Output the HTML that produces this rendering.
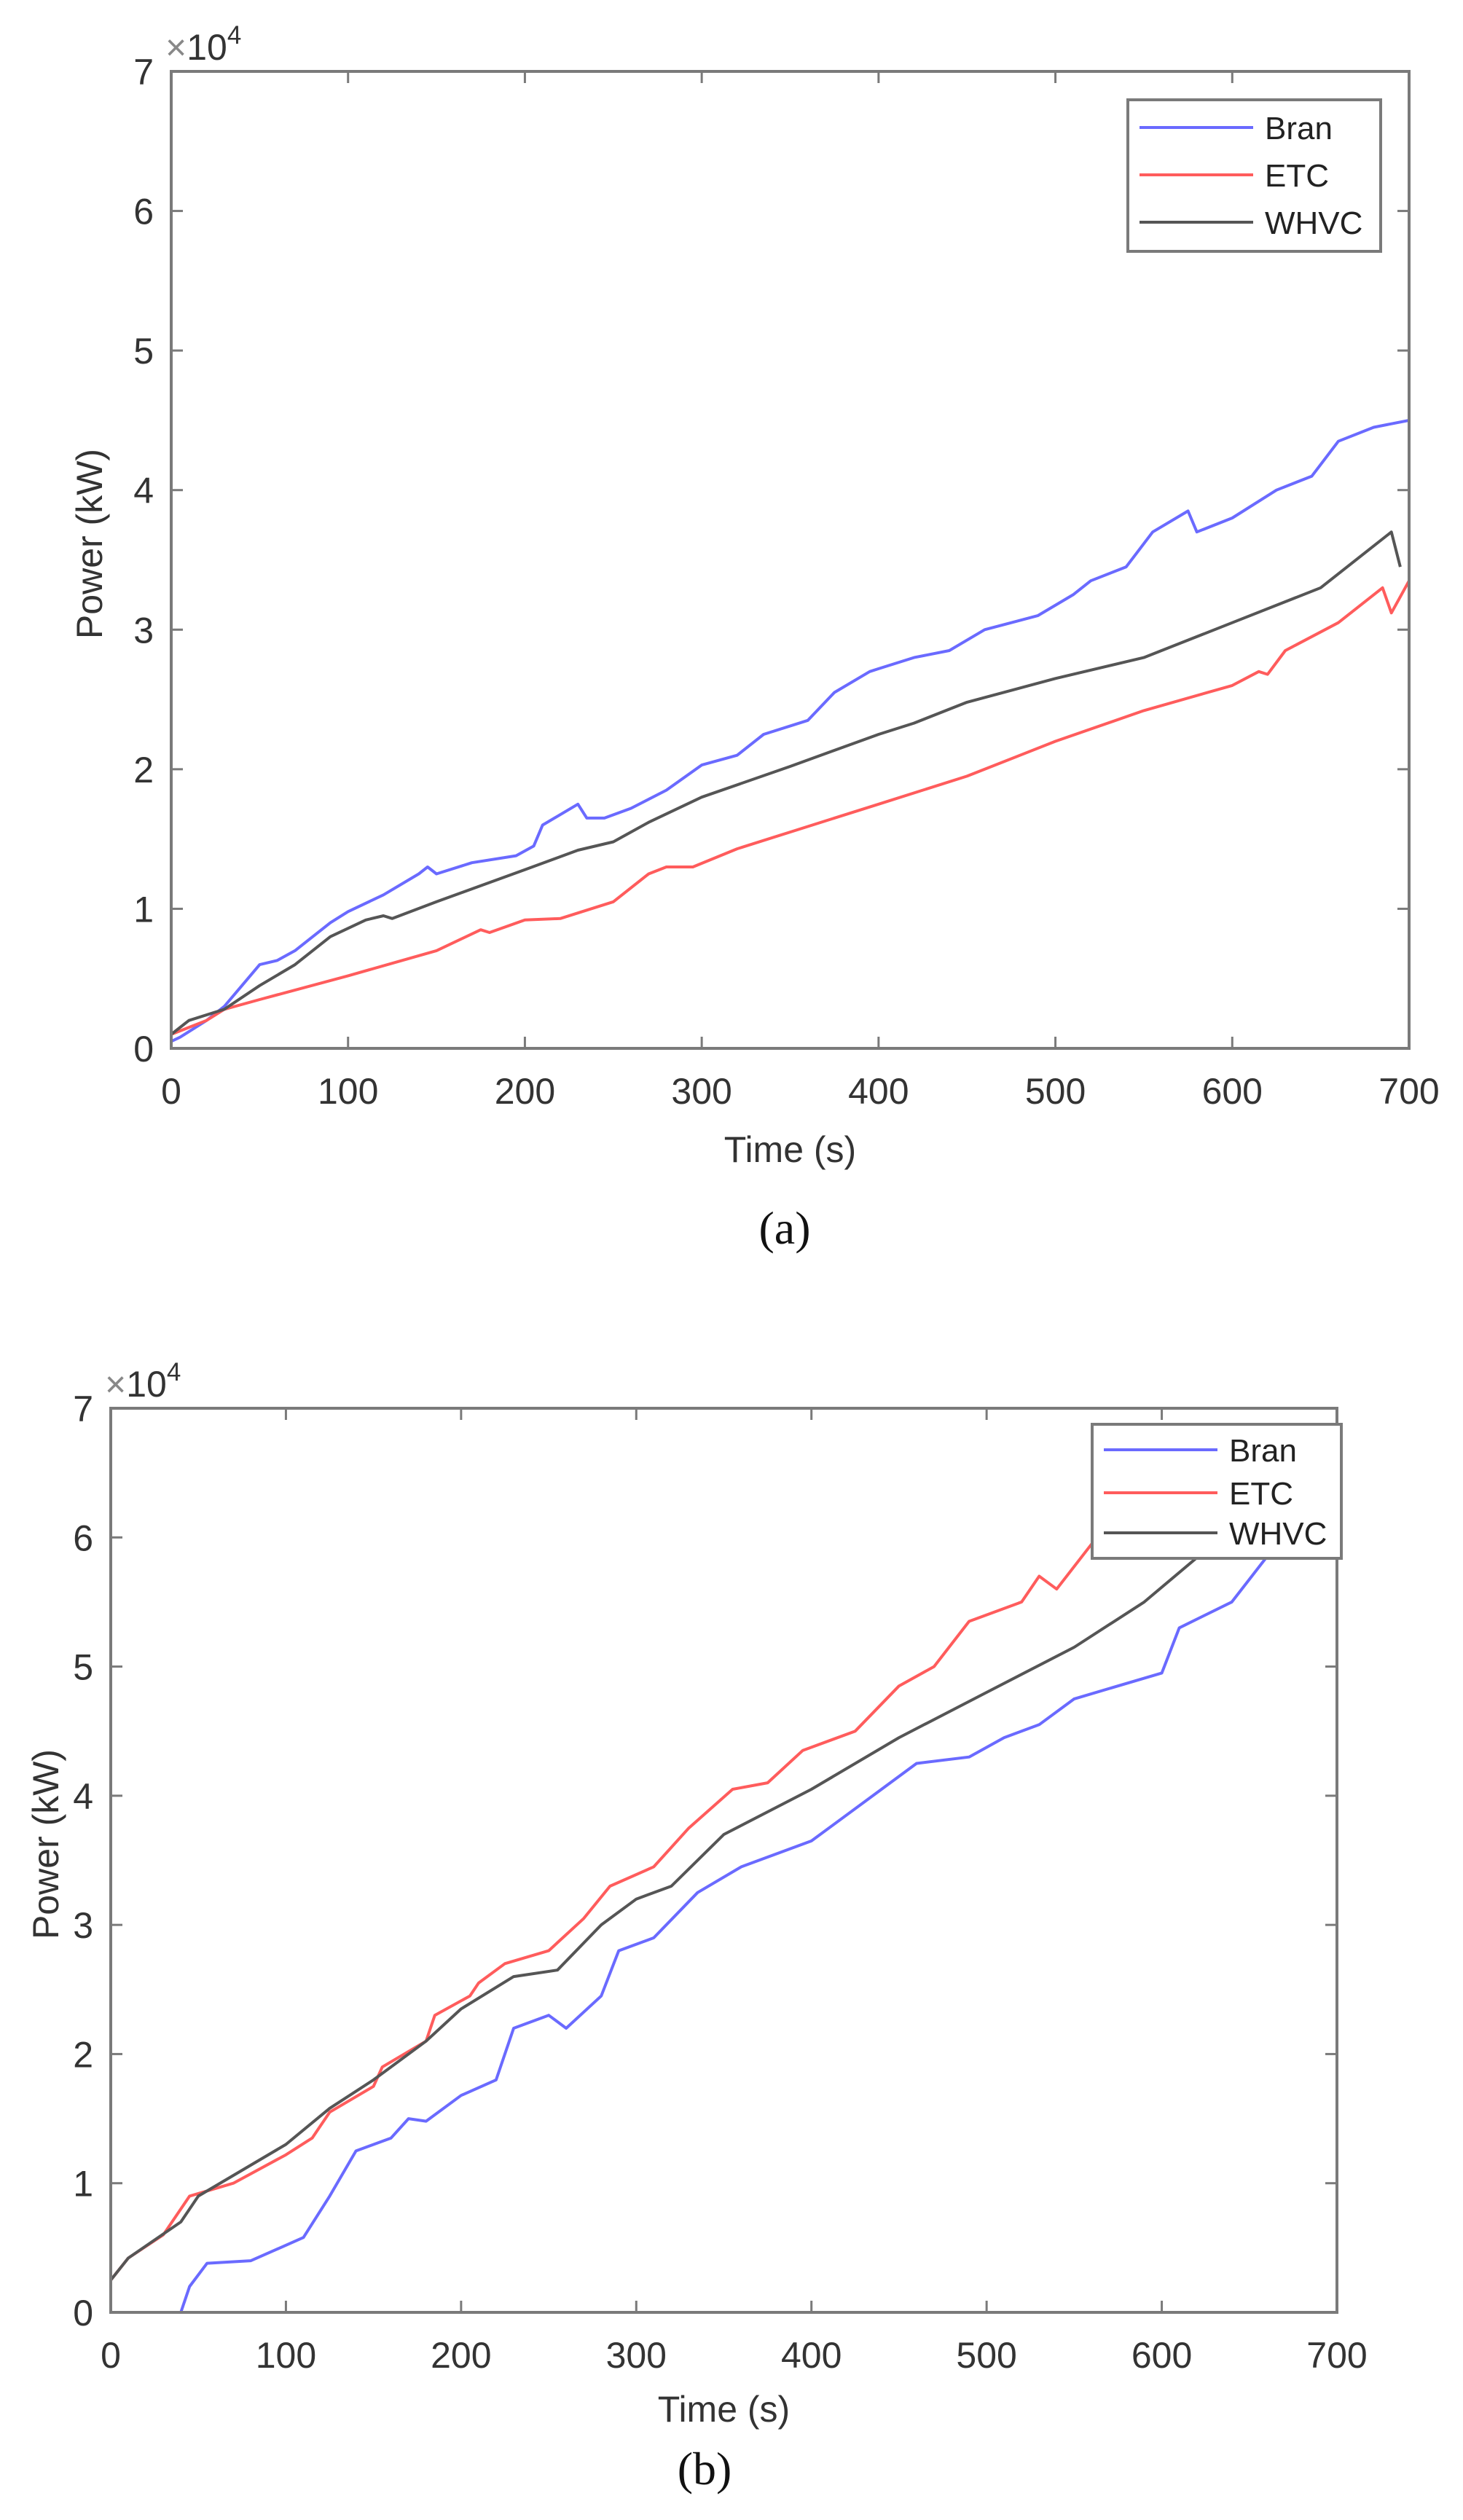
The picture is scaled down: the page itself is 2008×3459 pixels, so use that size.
<!DOCTYPE html>
<html><head><meta charset="utf-8">
<style>
html,body{margin:0;padding:0;background:#fff;}
svg{display:block;}
text{font-family:"Liberation Sans",sans-serif;fill:#333;}
</style></head>
<body>
<svg id="fig" width="2008" height="3459" viewBox="0 0 2008 3459" xmlns="http://www.w3.org/2000/svg"></svg>
<script>
// ---- data (values in units of 1e4 kW) ----
const xTicks = [0,100,200,300,400,500,600,700];
const yTicks = [0,1,2,3,4,5,6,7];
const seriesNames = ["Bran","ETC","WHVC"];

const aBranT = [0,5,20,30,40,50,60,70,80,90,100,120,140,145,150,170,195,205,210,230,235,245,260,280,300,320,335,360,375,395,400,420,440,460,490,510,520,540,555,575,580,600,625,645,660,680,700];
const aBranV = [0.05,0.08,0.2,0.3,0.45,0.6,0.63,0.7,0.8,0.9,0.98,1.1,1.25,1.3,1.25,1.33,1.38,1.45,1.6,1.75,1.65,1.65,1.72,1.85,2.03,2.1,2.25,2.35,2.55,2.7,2.72,2.8,2.85,3.0,3.1,3.25,3.35,3.45,3.7,3.85,3.7,3.8,4.0,4.1,4.35,4.45,4.5];
const aEtcT = [0,20,30,50,100,150,175,180,200,220,250,270,280,295,320,350,400,450,480,500,550,600,615,620,630,660,685,690,700];
const aEtcV = [0.1,0.2,0.28,0.35,0.52,0.7,0.85,0.83,0.92,0.93,1.05,1.25,1.3,1.3,1.43,1.55,1.75,1.95,2.1,2.2,2.42,2.6,2.7,2.68,2.85,3.05,3.3,3.12,3.35];
const aWhvcT = [0,10,30,50,70,90,110,120,125,150,200,230,250,270,300,350,400,420,450,500,550,560,600,650,690,695];
const aWhvcV = [0.1,0.2,0.28,0.45,0.6,0.8,0.92,0.95,0.93,1.05,1.28,1.42,1.48,1.62,1.8,2.02,2.25,2.33,2.48,2.65,2.8,2.85,3.05,3.3,3.7,3.45];

const bBranT = [40,45,55,80,110,125,140,160,170,180,200,220,230,250,260,280,290,310,335,360,400,440,460,490,510,530,550,600,610,640,660,670];
const bBranV = [0,0.2,0.38,0.4,0.58,0.9,1.25,1.35,1.5,1.48,1.68,1.8,2.2,2.3,2.2,2.45,2.8,2.9,3.25,3.45,3.65,4.05,4.25,4.3,4.45,4.55,4.75,4.95,5.3,5.5,5.85,6.1];
const bEtcT = [0,10,30,45,70,100,115,125,150,155,180,185,205,210,225,250,270,285,310,330,355,375,395,425,450,470,490,520,530,540,560,600];
const bEtcV = [0.25,0.42,0.6,0.9,1.0,1.22,1.35,1.55,1.75,1.9,2.1,2.3,2.45,2.55,2.7,2.8,3.05,3.3,3.45,3.75,4.05,4.1,4.35,4.5,4.85,5.0,5.35,5.5,5.7,5.6,5.95,6.3];
const bWhvcT = [0,10,40,50,100,125,150,180,200,230,255,280,300,320,350,400,450,500,550,590,625,650];
const bWhvcV = [0.25,0.42,0.7,0.9,1.3,1.58,1.8,2.1,2.35,2.6,2.65,3.0,3.2,3.3,3.7,4.05,4.45,4.8,5.15,5.5,5.9,6.2];

const colors = {Bran:"#6a6aff", ETC:"#ff5c5c", WHVC:"#555555"};
const NS = "http://www.w3.org/2000/svg";
const svg = document.getElementById('fig');
function mk(tag, attrs, parent){
  const e = document.createElementNS(NS, tag);
  for (const k in attrs) e.setAttribute(k, attrs[k]);
  (parent||svg).appendChild(e);
  return e;
}

function drawPanel(p){
  const g = mk('g', {});
  
  
  const xs = v => p.L + (v/700)*(p.R - p.L);
  const ys = v => p.B - (v/7)*(p.B - p.T);
  const cp = mk('clipPath', {id:'clip'+p.id}, g);
  mk('rect', {x:p.L, y:p.T, width:p.R-p.L, height:p.B-p.T}, cp);
  const data = [[p.bran[0],p.bran[1],'Bran'],[p.etc[0],p.etc[1],'ETC'],[p.whvc[0],p.whvc[1],'WHVC']];
  data.forEach(d => {
    let pts = d[0].map((t,i) => xs(t).toFixed(1)+','+ys(d[1][i]).toFixed(1)).join(' ');
    const pl = mk('polyline', {points:pts, fill:'none', stroke:colors[d[2]], 'stroke-width':4, 'stroke-linejoin':'round', 'clip-path':'url(#clip'+p.id+')'}, g);
    
    
  });
  const box = mk('rect', {x:p.L, y:p.T, width:p.R-p.L, height:p.B-p.T, fill:'none', stroke:'#7a7a7a', 'stroke-width':4}, g);
  
  
  xTicks.forEach(t => {
    const x = xs(t);
    mk('line', {x1:x, y1:p.B, x2:x, y2:p.B-16, stroke:'#7a7a7a', 'stroke-width':3}, g);
    mk('line', {x1:x, y1:p.T, x2:x, y2:p.T+16, stroke:'#7a7a7a', 'stroke-width':3}, g);
    const tx = mk('text', {x:x, y:p.B+76, 'font-size':p.fs, 'text-anchor':'middle'}, g);
    tx.textContent = t;
    
    
  });
  yTicks.forEach(t => {
    const y = ys(t);
    mk('line', {x1:p.L, y1:y, x2:p.L+16, y2:y, stroke:'#7a7a7a', 'stroke-width':3}, g);
    mk('line', {x1:p.R, y1:y, x2:p.R-16, y2:y, stroke:'#7a7a7a', 'stroke-width':3}, g);
    const tx = mk('text', {x:p.L-24, y:y+18, 'font-size':p.fs, 'text-anchor':'end'}, g);
    tx.textContent = t;
    
    
  });
  const ex = mk('text', {x:p.L-8, y:p.T-16, 'font-size':p.fs}, g);
  ex.innerHTML = '<tspan fill="#888">×</tspan>10<tspan dy="-22" font-size="'+(p.fs*0.7)+'">4</tspan>';
  
  
  const xt = mk('text', {x:(p.L+p.R)/2, y:p.B+p.xtOff, 'font-size':p.fs, 'text-anchor':'middle'}, g);
  xt.textContent = 'Time (s)';
  
  
  const yc = (p.T+p.B)/2 - 22;
  const yt = mk('text', {x:p.yTitleX, y:yc, 'font-size':p.fs, 'text-anchor':'middle', transform:'rotate(-90 '+p.yTitleX+' '+yc+')'}, g);
  yt.textContent = 'Power (kW)';
  
  
  const cap = mk('text', {x:p.capX, y:p.capY, 'font-size':64, 'text-anchor':'middle', style:'font-family:"Liberation Serif",serif;fill:#111'}, g);
  cap.textContent = '(' + p.id + ')';
  
  
  const lg = mk('g', {}, g);
  
  
  mk('rect', {x:p.lg.x, y:p.lg.y, width:p.lg.w, height:p.lg.h, fill:'#fff', stroke:'#7a7a7a', 'stroke-width':4}, lg);
  seriesNames.forEach((n,i) => {
    const yy = p.lg.rows[i];
    const ln = mk('line', {x1:p.lg.x+16, y1:yy, x2:p.lg.x+172, y2:yy, stroke:colors[n], 'stroke-width':4}, lg);
    
    
    const tx = mk('text', {x:p.lg.x+188, y:yy+16, 'font-size':44, style:'fill:#222'}, lg);
    tx.textContent = n;
    
    
  });
}

drawPanel({id:'a', L:235, R:1934, T:98, B:1439, fs:50, yTitleX:140, capX:1077, capY:1707, xtOff:156,
  bran:[aBranT,aBranV], etc:[aEtcT,aEtcV], whvc:[aWhvcT,aWhvcV],
  lg:{x:1548, y:137, w:347, h:208, rows:[175,240,305]}});
drawPanel({id:'b', L:152, R:1835, T:1933, B:3174, fs:50, yTitleX:80, capX:967, capY:3410, xtOff:150,
  bran:[bBranT,bBranV], etc:[bEtcT,bEtcV], whvc:[bWhvcT,bWhvcV],
  lg:{x:1499, y:1955, w:342, h:184, rows:[1990,2049,2104]}});
</script>
</body></html>
